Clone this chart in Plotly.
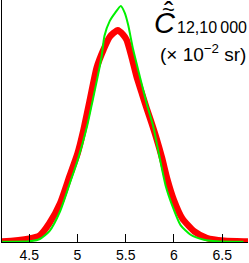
import plotly.graph_objects as go

# Red (thick) distribution
red_x = [4.15, 4.22, 4.50, 4.61, 4.71, 4.82, 4.92, 5.00, 5.06, 5.13, 5.20, 5.27, 5.335, 5.418,
         5.473, 5.508, 5.56, 5.612, 5.664, 5.716, 5.768, 5.82, 5.878, 5.929, 6.00, 6.085, 6.21, 6.34, 6.52, 6.73, 6.80]
red_y = [0.004, 0.005, 0.033, 0.067, 0.19, 0.39, 0.67, 0.89, 1.12, 1.44, 1.76, 1.94, 2.07, 2.135,
         2.09, 2.04, 1.87, 1.67, 1.51, 1.35, 1.20, 1.04, 0.84, 0.64, 0.42, 0.24, 0.107, 0.04, 0.013, 0.005, 0.004]

# Green (thin) distribution
green_x = [4.22, 4.50, 4.61, 4.71, 4.82, 4.92, 5.00, 5.10, 5.16, 5.21, 5.25, 5.28, 5.335, 5.39, 5.449,
           5.49, 5.525, 5.577, 5.646, 5.716, 5.784, 5.812, 5.854, 5.913, 5.981, 6.068, 6.172, 6.31, 6.445, 6.72]
green_y = [0.003, 0.007, 0.03, 0.11, 0.31, 0.59, 0.82, 1.17, 1.44, 1.67, 1.87, 2.08, 2.23, 2.31, 2.38,
           2.31, 2.19, 1.94, 1.67, 1.40, 1.17, 1.04, 0.84, 0.57, 0.37, 0.17, 0.073, 0.023, 0.007, 0.002]

tick_vals = [4.5, 5, 5.5, 6, 6.5]
tick_text = ["4.5", "5", "5.5", "6", "6.5"]

fig = go.Figure()
fig.add_trace(go.Scatter(x=red_x, y=red_y, mode="lines",
                         line=dict(color="#ff0000", width=6.5, shape="spline", smoothing=0.6)))
fig.add_trace(go.Scatter(x=green_x, y=green_y, mode="lines",
                         line=dict(color="#00f000", width=2, shape="spline", smoothing=0.6)))

W, H = 249, 263
L, R, T, B = 2, 1, 0, 19
pw, ph = W - L - R, H - T - B


def px(xp):
    return (xp - L) / pw


def py(yp):
    return (H - B - yp) / ph


font_family = "Liberation Sans, Arial, sans-serif"


def label(text, x, y, size, xanchor="center", yanchor="middle"):
    fig.add_annotation(xref="paper", yref="paper", x=px(x), y=py(y), showarrow=False,
                       text=text, font=dict(size=size, family=font_family, color="black"),
                       xanchor=xanchor, yanchor=yanchor)


label("<i>C</i>", 165, 23.3, 29)
label("~", 168, 9.5, 22)
label("\u02c6", 168.5, 12, 28)
label("12,10\u2009000", 175, 28, 16, xanchor="left")
label("(× 10<sup>−2</sup> sr)", 248.5, 53.7, 19, xanchor="right")

fig.update_layout(
    width=W, height=H, margin=dict(l=L, r=R, t=T, b=B),
    paper_bgcolor="white", plot_bgcolor="white", showlegend=False,
    xaxis=dict(range=[4.218, 6.767], tickvals=tick_vals, ticktext=tick_text,
               ticks="inside", ticklen=8, tickcolor="black", tickwidth=1,
               showline=True, linecolor="black", linewidth=1, showgrid=False, zeroline=False,
               tickfont=dict(size=14, family=font_family, color="black")),
    yaxis=dict(range=[0, 2.44], showline=True, linecolor="black", linewidth=1,
               showticklabels=False, ticks="", showgrid=False, zeroline=False),
)
fig.write_html("out.html", config={"displayModeBar": False},
               post_script="document.body.style.margin='0';document.body.style.overflow='hidden';")
